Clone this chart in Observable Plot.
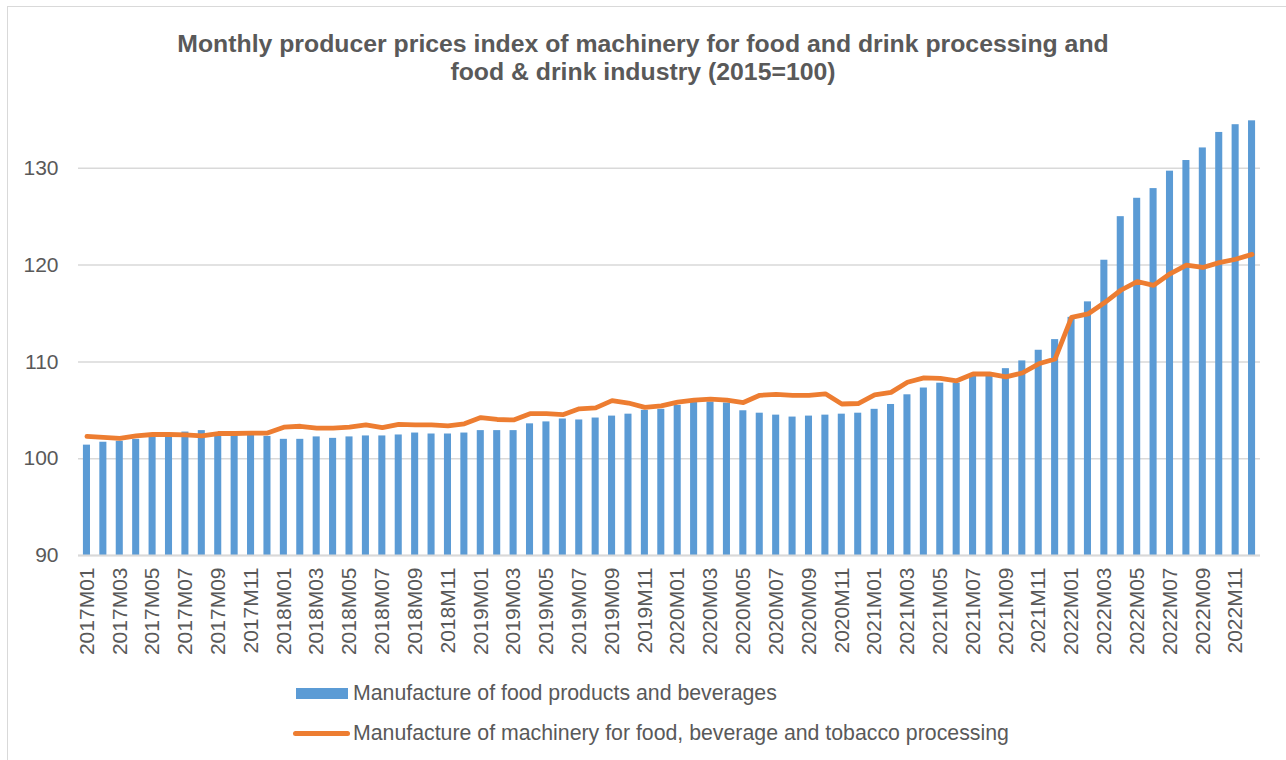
<!DOCTYPE html>
<html>
<head>
<meta charset="utf-8">
<script src="https://cdn.jsdelivr.net/npm/d3@7"></script>
<script src="https://cdn.jsdelivr.net/npm/@observablehq/plot@0.6"></script>
<style>
  html, body { margin: 0; padding: 0; background: #fff; }
  body { width: 1286px; height: 760px; position: relative; overflow: hidden;
         font-family: "Liberation Sans", Arial, sans-serif; color: #595959; }
  #frame { position: absolute; left: 7px; top: 6px; width: 1300px; height: 800px;
           border: 1.5px solid #d9d9d9; box-sizing: border-box; }
  #title { position: absolute; left: 0; top: 30px; width: 1286px; text-align: center;
           font-weight: bold; font-size: 24.8px; line-height: 28px; color: #595959; }
  #chart { position: absolute; left: 0; top: 88px; }
  .leg { position: absolute; left: 293px; font-size: 21.3px; color: #595959; height: 24px;
         display: flex; align-items: center; white-space: nowrap; }
  .sw-bar { width: 52px; height: 11px; background: #5B9BD5; margin-left: 3px; margin-right: 5px; }
  .sw-line { width: 57px; height: 5px; background: #ED7D31; border-radius: 3px; margin-right: 3px; }
</style>
</head>
<body>
<div id="frame"></div>
<div id="title">Monthly producer prices index of machinery for food and drink processing and<br>food &amp; drink industry (2015=100)</div>
<div id="chart"></div>
<div class="leg" style="top:681px"><div class="sw-bar"></div>Manufacture of food products and beverages</div>
<div class="leg" style="top:721px"><div class="sw-line"></div>Manufacture of machinery for food, beverage and tobacco processing</div>
<script>
const years = ["2017", "2018", "2019", "2020", "2021", "2022"];
const monthCodes = ["M01","M02","M03","M04","M05","M06","M07","M08","M09","M10","M11","M12"];
const months = years.flatMap(y => monthCodes.map(m => y + m));

const foodProducts = [
  101.4, 101.7, 101.8, 102.0, 102.25, 102.3, 102.75, 102.9, 102.4, 102.4, 102.4, 102.3,
  102.0, 102.0, 102.25, 102.1, 102.25, 102.35, 102.35, 102.45, 102.65, 102.55, 102.55, 102.65,
  102.9, 102.9, 102.9, 103.6, 103.8, 104.1, 104.0, 104.2, 104.4, 104.6, 105.0, 105.1,
  105.5, 105.8, 105.85, 105.75, 104.95, 104.7, 104.5, 104.3, 104.4, 104.5, 104.6, 104.7,
  105.1, 105.6, 106.6, 107.3, 107.8, 107.8, 108.5, 108.6, 109.3, 110.1, 111.2, 112.3,
  114.6, 116.2, 120.5, 125.0, 126.9, 127.9, 129.7, 130.8, 132.1, 133.7, 134.5, 134.9
];
const machinery = [
  102.3, 102.2, 102.1, 102.35, 102.5, 102.5, 102.45, 102.35, 102.6, 102.6, 102.65, 102.65,
  103.25, 103.35, 103.15, 103.15, 103.25, 103.5, 103.2, 103.55, 103.5, 103.5, 103.4, 103.6,
  104.25, 104.05, 104.0, 104.65, 104.65, 104.55, 105.15, 105.25, 106.0, 105.75, 105.3, 105.45,
  105.85, 106.05, 106.15, 106.05, 105.8, 106.55, 106.65, 106.55, 106.55, 106.7, 105.65, 105.7,
  106.6, 106.85, 107.9, 108.35, 108.3, 108.05, 108.75, 108.75, 108.45, 108.85, 109.8, 110.3,
  114.6, 114.95, 116.1, 117.4, 118.3, 117.9, 119.1, 120.0, 119.75, 120.25, 120.6, 121.1
];
const yTicks = [90, 100, 110, 120, 130];
const xTicks = months.filter((d, i) => i % 2 === 0);

const data = months.map((m, i) => ({month: m, food: foodProducts[i], mach: machinery[i]}));

const chart = Plot.plot({
  width: 1286,
  height: 577,
  marginLeft: 78,
  marginRight: 26,
  marginTop: 12,
  marginBottom: 110,
  style: {fontFamily: "'Liberation Sans', Arial, sans-serif", fontSize: "21px", color: "#595959", background: "transparent"},
  x: {domain: months, type: "band", round: false, paddingInner: 0.57, paddingOuter: 0.3, label: null,
      ticks: xTicks, tickSize: 0, tickPadding: 12, tickRotate: -90},
  y: {domain: [90, 137], label: null, ticks: yTicks, tickSize: 0, tickPadding: 20},
  marks: [
    Plot.ruleY(yTicks, {stroke: "#d9d9d9", strokeWidth: 1.5}),
    Plot.barY(data, {x: "month", y1: 90, y2: "food", fill: "#5B9BD5"}),
    Plot.lineY(data, {x: "month", y: "mach", stroke: "#ED7D31", strokeWidth: 4.8, strokeLinecap: "round", strokeLinejoin: "round"}),
    Plot.ruleY([90], {stroke: "#d9d9d9", strokeWidth: 2})
  ]
});
document.getElementById("chart").appendChild(chart);
</script>
</body>
</html>
